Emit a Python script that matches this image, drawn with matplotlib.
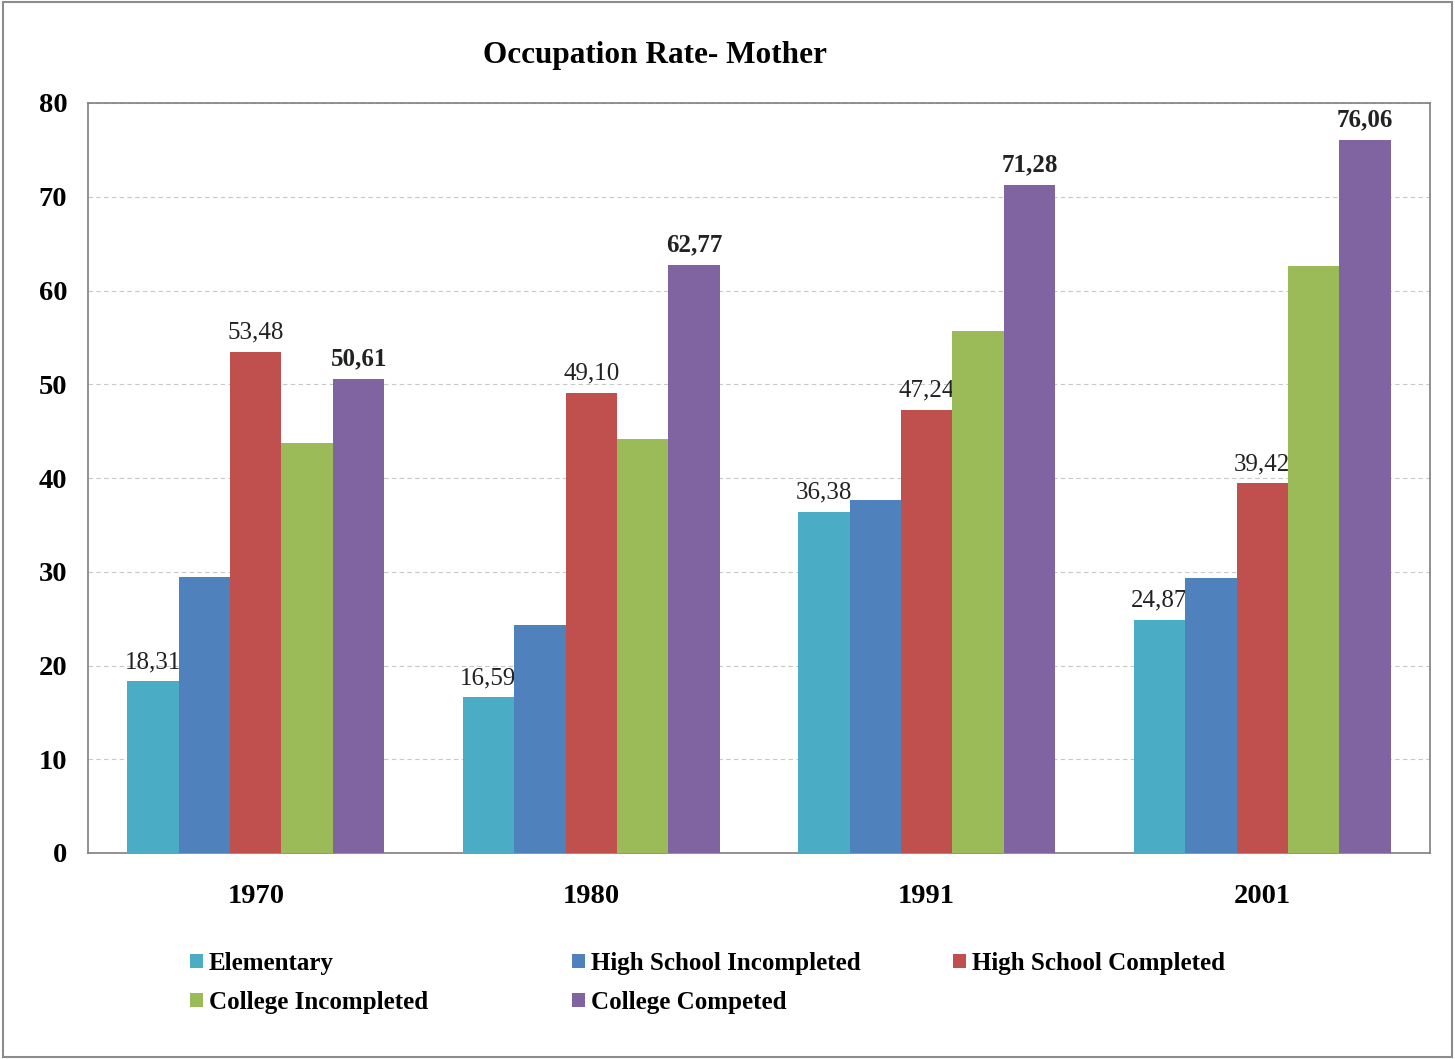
import numpy as np
import matplotlib
matplotlib.use("Agg")
import matplotlib.pyplot as plt
from matplotlib.patches import Rectangle

plt.rcParams['font.family'] = ['Liberation Serif', 'DejaVu Serif']

# Data
years = ["1970", "1980", "1991", "2001"]
series_names = ["Elementary", "High School Incompleted", "High School Completed",
                "College Incompleted", "College Competed"]
elementary = [18.31, 16.59, 36.38, 24.87]
hs_incompleted = [29.4, 24.3, 37.7, 29.3]
hs_completed = [53.48, 49.10, 47.24, 39.42]
college_incompleted = [43.7, 44.2, 55.7, 62.6]
college_completed = [50.61, 62.77, 71.28, 76.06]

colors = ["#4BACC6", "#4F81BD", "#C0504D", "#9BBB59", "#8064A2"]
all_series = [elementary, hs_incompleted, hs_completed, college_incompleted, college_completed]
# which series get value labels, and bold or not
label_style = [("normal", True), (None, False), ("normal", True), (None, False), ("bold", True)]

fig = plt.figure(figsize=(14.55, 10.59), dpi=100)
ax = fig.add_axes([88 / 1455, 1 - 853 / 1059, (1430 - 88) / 1455, (853 - 103) / 1059])

x = np.arange(len(years))
w = 0.1535
handles = []
for i, (vals, c) in enumerate(zip(all_series, colors)):
    pos = x + (i - 2) * w
    b = ax.bar(pos, vals, width=w, color=c, label=series_names[i], zorder=3)
    handles.append(b)
    weight, show = label_style[i]
    if show:
        for px, v in zip(pos, vals):
            ax.annotate("{:.2f}".format(v).replace(".", ","), (px, v),
                        xytext=(0, 6), textcoords="offset points",
                        ha="center", va="bottom",
                        fontsize=18, fontweight=weight, color="#222222")

ax.set_xlim(-0.5, 3.5)
ax.set_ylim(0, 80)
ax.set_yticks(range(0, 81, 10))
ax.set_xticks(x)
ax.set_xticklabels(years)
ax.yaxis.grid(True, linestyle=(0, (4, 3)), color="#c8c8c8", linewidth=0.8, zorder=0)
for sp in ax.spines.values():
    sp.set_color("#7f7f7f")
    sp.set_linewidth(1.2)
ax.tick_params(axis="both", length=0, labelsize=20.5, colors="black")
ax.tick_params(axis="y", pad=15)
ax.tick_params(axis="x", pad=22)
for lab in ax.get_xticklabels() + ax.get_yticklabels():
    lab.set_fontweight("bold")

fig.text(655 / 1455, 1 - 55 / 1059, "Occupation Rate- Mother", ha="center", va="center",
         fontsize=22.5, fontweight="bold")

# legend: three columns placed separately so they are evenly spaced
leg_cols = [[0, 3], [1, 4], [2]]
leg_x = [190, 572, 953]
for cols, lx in zip(leg_cols, leg_x):
    fig.legend([handles[k] for k in cols], [series_names[k] for k in cols],
               loc="upper left", bbox_to_anchor=(lx / 1455, 1 - 952 / 1059),
               frameon=False, prop={"weight": "bold", "size": 18},
               handlelength=0.5, handleheight=0.5, handletextpad=0.25,
               labelspacing=0.62, borderpad=0, borderaxespad=0)

# outer border
fig.patches.append(Rectangle((0.002, 0.002), 0.996, 0.996, transform=fig.transFigure,
                             fill=False, edgecolor="#8c8c8c", linewidth=1.5))

fig.savefig("out.png", dpi=100)
